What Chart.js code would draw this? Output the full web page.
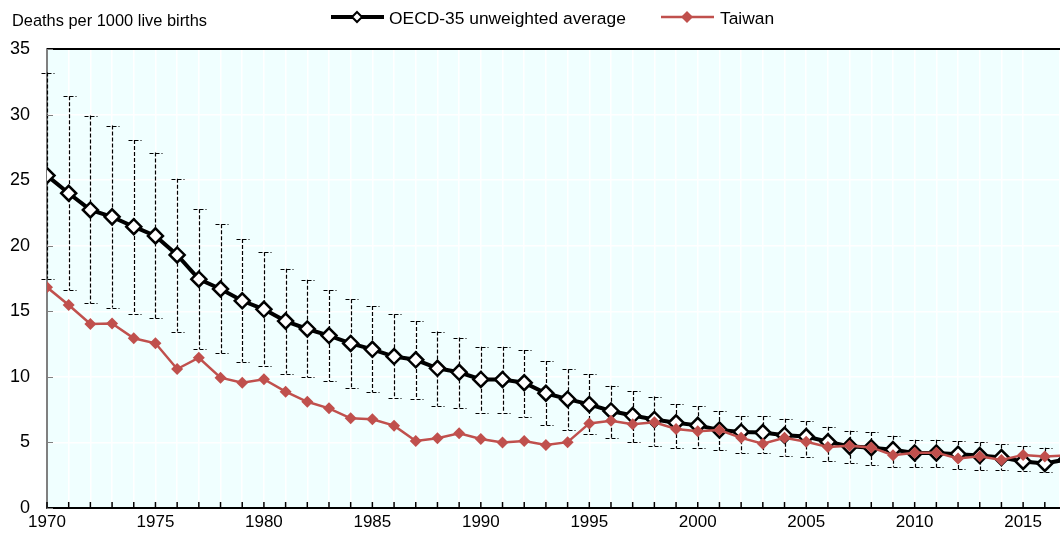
<!DOCTYPE html>
<html>
<head>
<meta charset="utf-8">
<script src="https://cdn.jsdelivr.net/npm/chart.js@4"></script>
<style>
  html, body { margin: 0; padding: 0; background: #ffffff; }
  #wrap { width: 1060px; height: 533px; position: relative; }
</style>
</head>
<body>
<div id="wrap"><canvas id="mortalityChart" width="1060" height="533"></canvas></div>
<script>
// Infant mortality, deaths per 1000 live births
const years = [];
for (let y = 1970; y <= 2017; y++) years.push(y);

const oecdAverage = [
    25.35, 24.0, 22.73, 22.2, 21.45, 20.75, 19.3, 17.45, 16.7, 15.8,
    15.15, 14.25, 13.65, 13.15, 12.55, 12.1, 11.55, 11.3, 10.65, 10.35,
    9.8, 9.8, 9.55, 8.75, 8.3, 7.9, 7.4, 7.05, 6.75, 6.5,
    6.3, 5.95, 5.8, 5.75, 5.55, 5.45, 5.05, 4.7, 4.6, 4.45,
    4.2, 4.2, 4.1, 4.0, 3.85, 3.55, 3.4, 3.7
];
const taiwan = [
    16.83, 15.48, 14.03, 14.07, 12.94, 12.56, 10.6, 11.46, 9.94, 9.56,
    9.82, 8.87, 8.1, 7.6, 6.84, 6.76, 6.28, 5.11, 5.32, 5.7,
    5.26, 5.0, 5.1, 4.8, 5.02, 6.45, 6.66, 6.38, 6.53, 6.03,
    5.85, 5.95, 5.35, 4.9, 5.35, 5.05, 4.65, 4.75, 4.62, 4.02,
    4.22, 4.22, 3.78, 3.95, 3.66, 4.05, 3.92, 4.0
];
// range bars around the OECD average
const oecdHigh = [
    33.2, 31.4, 29.92, 29.16, 28.07, 27.1, 25.1, 22.78, 21.64, 20.52,
    19.5, 18.25, 17.4, 16.63, 15.92, 15.4, 14.77, 14.26, 13.45, 13.0,
    12.3, 12.3, 12.05, 11.2, 10.58, 10.22, 9.33, 8.92, 8.5, 7.93,
    7.75, 7.4, 7.0, 7.0, 6.8, 6.6, 6.2, 5.9, 5.8, 5.5,
    5.2, 5.2, 5.1, 5.0, 4.85, 4.7, 4.6, 4.5
];
const oecdLow = [
    17.5, 16.63, 15.6, 15.28, 14.8, 14.47, 13.45, 12.13, 11.8, 11.16,
    10.8, 10.25, 9.97, 9.66, 9.18, 8.82, 8.42, 8.31, 7.8, 7.62,
    7.27, 7.27, 6.97, 6.33, 5.95, 5.64, 5.3, 5.0, 4.75, 4.55,
    4.6, 4.4, 4.2, 4.2, 4.0, 3.9, 3.6, 3.45, 3.3, 3.15,
    3.1, 3.1, 2.95, 2.9, 2.9, 2.85, 2.75, 2.7
];

const yTicks = [0, 5, 10, 15, 20, 25, 30, 35];
const yTitle = 'Deaths per 1000 live births';
const seriesNames = ['OECD-35 unweighted average', 'Taiwan'];

const FONT = "'Liberation Sans', Arial, sans-serif";
const RED = '#C0504D';

function toPoints(vals) {
    return vals.map((v, i) => ({ x: years[i], y: v }));
}

function diamond(ctx, x, y, r, fill, stroke, lw) {
    ctx.beginPath();
    ctx.moveTo(x, y - r);
    ctx.lineTo(x + r, y);
    ctx.lineTo(x, y + r);
    ctx.lineTo(x - r, y);
    ctx.closePath();
    ctx.fillStyle = fill;
    ctx.fill();
    if (lw) {
        ctx.lineWidth = lw;
        ctx.strokeStyle = stroke;
        ctx.stroke();
    }
}

const chartDecor = {
    id: 'chartDecor',
    beforeDraw(chart) {
        const { ctx, chartArea: a } = chart;
        ctx.save();
        ctx.fillStyle = '#F0FFFF';
        ctx.fillRect(a.left, a.top, a.right - a.left, a.bottom - a.top);
        ctx.restore();
    },
    beforeDatasetsDraw(chart) {
        const { ctx, chartArea: a, scales } = chart;
        const xs = scales.x, ys = scales.y;
        ctx.save();
        ctx.beginPath();
        ctx.rect(a.left - 8, a.top, a.right - a.left + 8, a.bottom - a.top);
        ctx.clip();
        // dashed range bars
        ctx.strokeStyle = '#000000';
        ctx.lineWidth = 1.2;
        ctx.setLineDash([4, 2]);
        years.forEach((yr, i) => {
            const x = Math.round(xs.getPixelForValue(yr)) + 0.5;
            const yHi = ys.getPixelForValue(oecdHigh[i]);
            const yLo = ys.getPixelForValue(oecdLow[i]);
            ctx.beginPath();
            ctx.moveTo(x, yHi);
            ctx.lineTo(x, yLo);
            ctx.moveTo(x - 6, Math.round(yHi) + 0.5);
            ctx.lineTo(x + 7, Math.round(yHi) + 0.5);
            ctx.moveTo(x - 6, Math.round(yLo) + 0.5);
            ctx.lineTo(x + 7, Math.round(yLo) + 0.5);
            ctx.stroke();
        });
        ctx.restore();

        ctx.save();
        ctx.setLineDash([]);
        // top frame line
        ctx.strokeStyle = '#000000';
        ctx.lineWidth = 2;
        ctx.beginPath();
        ctx.moveTo(a.left, a.top);
        ctx.lineTo(a.right, a.top);
        ctx.stroke();
        // inward year ticks on the x axis
        ctx.lineWidth = 1.5;
        years.forEach(yr => {
            const x = xs.getPixelForValue(yr);
            if (x > a.right) return;
            ctx.beginPath();
            ctx.moveTo(x, a.bottom);
            ctx.lineTo(x, a.bottom - 6);
            ctx.stroke();
        });
        // inward ticks on the y axis
        ctx.strokeStyle = '#808080';
        ctx.lineWidth = 1;
        yTicks.forEach(v => {
            const y = Math.round(ys.getPixelForValue(v)) + 0.5;
            ctx.beginPath();
            ctx.moveTo(a.left, y);
            ctx.lineTo(a.left + 6, y);
            ctx.stroke();
        });
        ctx.restore();
    },
    afterDraw(chart) {
        const { ctx } = chart;
        ctx.save();
        ctx.fillStyle = '#000000';
        ctx.textBaseline = 'alphabetic';
        ctx.font = '16.4px ' + FONT;
        ctx.fillText(yTitle, 12, 26);

        // legend
        ctx.font = '17.4px ' + FONT;
        ctx.strokeStyle = '#000000';
        ctx.lineWidth = 4;
        ctx.beginPath();
        ctx.moveTo(331, 17);
        ctx.lineTo(384, 17);
        ctx.stroke();
        diamond(ctx, 357, 17, 5, '#ffffff', '#000000', 2);
        ctx.fillStyle = '#000000';
        ctx.fillText(seriesNames[0], 389, 24);

        ctx.strokeStyle = RED;
        ctx.lineWidth = 2.5;
        ctx.beginPath();
        ctx.moveTo(661, 17);
        ctx.lineTo(714, 17);
        ctx.stroke();
        diamond(ctx, 687, 17, 6, RED, RED, 0);
        ctx.fillStyle = '#000000';
        ctx.fillText(seriesNames[1], 720, 24);
        ctx.restore();
    }
};

document.addEventListener('DOMContentLoaded', function() {
    const ctx = document.getElementById('mortalityChart');
    new Chart(ctx, {
        type: 'line',
        data: {
            datasets: [{
                label: seriesNames[1],
                data: toPoints(taiwan),
                borderColor: RED,
                backgroundColor: RED,
                borderWidth: 2.5,
                pointStyle: 'rectRot',
                pointRadius: 6,
                pointBorderWidth: 0,
                pointBackgroundColor: RED,
                tension: 0,
                order: 1
            }, {
                label: seriesNames[0],
                data: toPoints(oecdAverage),
                borderColor: '#000000',
                backgroundColor: '#ffffff',
                borderWidth: 4,
                pointStyle: 'rectRot',
                pointRadius: 7.5,
                pointBorderWidth: 2.5,
                pointBackgroundColor: '#ffffff',
                pointBorderColor: '#000000',
                tension: 0,
                order: 2
            }]
        },
        options: {
            responsive: false,
            animation: false,
            devicePixelRatio: 1,
            layout: { autoPadding: false, padding: { top: 49, left: 0, right: 0, bottom: 0 } },
            plugins: {
                legend: { display: false },
                tooltip: { enabled: false }
            },
            scales: {
                x: {
                    type: 'linear',
                    min: 1970,
                    max: 2016.7,
                    afterFit: function(scale) {
                        scale.height = 25;
                        scale.paddingLeft = 0;
                        scale.paddingRight = 0;
                    },
                    ticks: {
                        stepSize: 1,
                        autoSkip: false,
                        maxRotation: 0,
                        padding: 4,
                        color: '#000000',
                        font: { family: FONT, size: 17 },
                        callback: function(value) {
                            return (Number.isInteger(value) && value % 5 === 0) ? String(value) : '';
                        }
                    },
                    grid: { color: '#ffffff', lineWidth: 1.5, drawTicks: false },
                    border: { color: '#000000', width: 2 }
                },
                y: {
                    min: 0,
                    max: 35,
                    afterFit: function(scale) {
                        scale.width = 47;
                        scale.paddingTop = 0;
                        scale.paddingBottom = 0;
                    },
                    ticks: {
                        stepSize: 5,
                        padding: 17,
                        color: '#000000',
                        font: { family: FONT, size: 18 }
                    },
                    grid: { color: '#ffffff', lineWidth: 1.5, drawTicks: false },
                    border: { color: '#808080', width: 2 }
                }
            }
        },
        plugins: [chartDecor]
    });
});
</script>
</body>
</html>
